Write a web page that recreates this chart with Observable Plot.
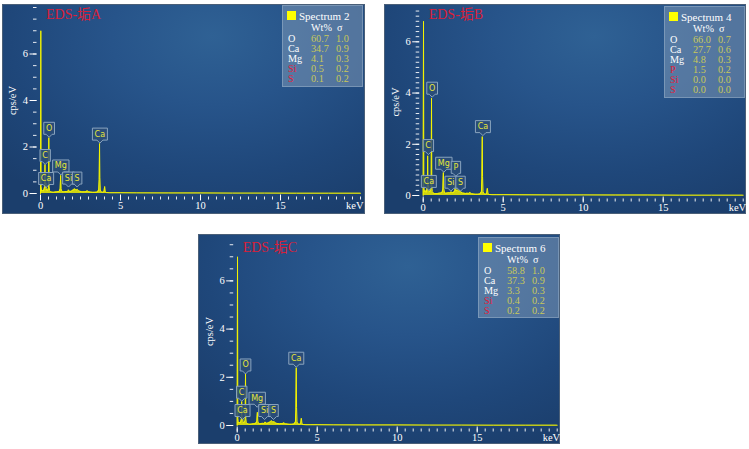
<!DOCTYPE html>
<html><head><meta charset="utf-8">
<script src="https://cdn.jsdelivr.net/npm/d3@7"></script>
<script src="https://cdn.jsdelivr.net/npm/@observablehq/plot@0.6"></script>
<style>
body{margin:0;background:#fff;}
#root{position:relative;width:749px;height:449px;overflow:hidden;background:#fff;}
.panel{position:absolute;background:radial-gradient(ellipse 80% 95% at 58% 15%, #2f6194 0%, #27548a 35%, #1f477a 70%, #1b3e6c 100%);box-shadow:0 0 0 1px #4a5f78;}
.panel svg{position:absolute;left:0;top:0;}
.title{position:absolute;font-family:"Liberation Serif","Noto Sans CJK SC",serif;font-size:14px;color:#d8203a;line-height:1;white-space:nowrap;}
.legend{position:absolute;background:rgba(150,172,195,0.42);box-shadow:0 0 0 1px rgba(190,205,220,0.55);font-family:"Liberation Serif",serif;}
.legend span{position:absolute;line-height:10px;font-size:10.2px;white-space:nowrap;color:#fff;}
.legend .sq{background:#ffff00;width:9px;height:9px;}
.legend .t{font-size:11px;}
.legend .v{color:#c8c85a;}
.legend .r{color:#e0203a;}
</style>
</head><body><div id="root"></div>
<script>
// energy grid (keV)
const keV = [0,0.02,0.04,0.07,0.12,0.18,0.23,0.26,0.28,0.30,0.32,0.34,0.36,0.40,0.46,0.50,0.52,0.54,0.57,0.62,0.70,0.80,0.90,1.00,1.10,1.18,1.23,1.26,1.29,1.34,1.42,1.50,1.60,1.68,1.72,1.75,1.78,1.85,1.93,1.98,2.01,2.04,2.10,2.15,2.20,2.25,2.31,2.36,2.45,2.55,2.65,2.75,2.85,2.92,2.96,3.02,3.12,3.25,3.40,3.55,3.64,3.67,3.69,3.71,3.74,3.80,3.90,3.97,4.01,4.05,4.12,4.30,4.60,5.0,6.0,8.0,10.0,12.0,14.0,16.0,18.0,20.0];

// spectra (cps/eV)
const cpsA = [0,7.0,0.3,0.1,0.15,0.1,0.2,0.3,1.25,0.35,0.25,0.45,0.2,0.12,0.15,0.25,2.4,0.3,0.12,0.08,0.06,0.05,0.06,0.07,0.08,0.1,0.2,0.78,0.2,0.08,0.07,0.08,0.09,0.08,0.1,0.16,0.1,0.09,0.1,0.12,0.15,0.14,0.18,0.2,0.17,0.15,0.18,0.12,0.1,0.08,0.07,0.08,0.08,0.12,0.1,0.07,0.06,0.05,0.05,0.06,0.15,0.6,2.15,0.7,0.15,0.06,0.05,0.08,0.3,0.07,0.04,0.03,0.03,0.03,0.025,0.02,0.02,0.015,0.015,0.01,0.01,0.01];
const cpsB = [0,6.8,0.4,0.15,0.2,0.12,0.25,0.35,1.55,0.4,0.3,0.4,0.22,0.14,0.18,0.3,3.8,0.35,0.15,0.1,0.08,0.07,0.08,0.09,0.1,0.12,0.25,0.9,0.25,0.1,0.09,0.1,0.11,0.1,0.12,0.15,0.12,0.11,0.14,0.2,0.52,0.2,0.2,0.22,0.18,0.16,0.2,0.13,0.1,0.09,0.08,0.09,0.08,0.12,0.1,0.07,0.06,0.05,0.05,0.06,0.15,0.65,2.3,0.75,0.15,0.06,0.05,0.08,0.28,0.07,0.04,0.03,0.03,0.03,0.025,0.02,0.02,0.015,0.015,0.01,0.01,0.01];
const cpsC = [0,7.0,0.3,0.1,0.14,0.1,0.18,0.25,1.0,0.3,0.22,0.35,0.18,0.11,0.14,0.22,2.15,0.28,0.11,0.08,0.06,0.05,0.06,0.07,0.08,0.1,0.18,0.55,0.18,0.08,0.07,0.08,0.09,0.08,0.1,0.15,0.1,0.09,0.1,0.12,0.14,0.13,0.17,0.2,0.16,0.14,0.17,0.11,0.09,0.08,0.07,0.08,0.08,0.11,0.09,0.07,0.06,0.05,0.05,0.06,0.15,0.65,2.4,0.75,0.15,0.06,0.05,0.08,0.3,0.07,0.04,0.03,0.03,0.03,0.025,0.02,0.02,0.015,0.015,0.01,0.01,0.01];

// peak labels (pointer tip at energy / cps)
const labNameA = ["C","O","Ca","Mg","Si","S","Ca"];
const labKeVA  = [0.28,0.54,0.35,1.27,1.75,2.29,3.71];
const labCpsA  = [1.25,2.42,0.26,0.8,0.28,0.28,2.17];
const labNameB = ["C","O","Ca","Mg","P","Si","S","Ca"];
const labKeVB  = [0.31,0.56,0.35,1.29,2.04,1.73,2.33,3.73];
const labCpsB  = [1.6,3.84,0.2,0.91,0.75,0.17,0.17,2.34];
const labNameC = ["C","O","Ca","Mg","Si","S","Ca"];
const labKeVC  = [0.27,0.52,0.33,1.25,1.71,2.27,3.69];
const labCpsC  = [1.01,2.14,0.25,0.76,0.25,0.25,2.42];

// quantification tables
const titles = ["EDS-垢A","EDS-垢B","EDS-垢C"];
const spectrumNames = ["Spectrum 2","Spectrum 4","Spectrum 6"];
const elemA = ["O","Ca","Mg","Si","S"];     const wtA = ["60.7","34.7","4.1","0.5","0.1"]; const sigA = ["1.0","0.9","0.3","0.2","0.2"];
const elemB = ["O","Ca","Mg","P","Si","S"]; const wtB = ["66.0","27.7","4.8","1.5","0.0","0.0"]; const sigB = ["0.7","0.6","0.3","0.2","0.0","0.0"];
const elemC = ["O","Ca","Mg","Si","S"];     const wtC = ["58.8","37.3","3.3","0.4","0.2"]; const sigC = ["1.0","0.9","0.3","0.2","0.2"];
const redElems = ["P","Si","S"];
const yTickLabels = [0,2,4,6];
const xTickLabels = [0,5,10,15];

const panels = [
  {left:3,top:5,w:361,h:208,ml:37,mr:4,mt:2,mb:20,ymax:8,yminor:0.5,titleTop:3,lgTop:1,lgH:80,
   cps:cpsA,ln:labNameA,lk:labKeVA,lc:labCpsA,el:elemA,wt:wtA,sg:sigA},
  {left:385,top:5,w:360,h:208,ml:37.7,mr:2.3,mt:3,mb:18,ymax:7.3,yminor:0.2,titleTop:3,lgTop:2,lgH:90,
   cps:cpsB,ln:labNameB,lk:labKeVB,lc:labCpsB,el:elemB,wt:wtB,sg:sigB},
  {left:199,top:235,w:360,h:208,ml:37.7,mr:2.3,mt:2,mb:18,ymax:7.8,yminor:0.5,titleTop:5.5,lgTop:3,lgH:79,
   cps:cpsC,ln:labNameC,lk:labKeVC,lc:labCpsC,el:elemC,wt:wtC,sg:sigC}
];

const SVGNS = "http://www.w3.org/2000/svg";
const root = document.getElementById("root");
panels.forEach((p, k) => {
  const div = document.createElement("div");
  div.className = "panel";
  Object.assign(div.style, {left:p.left+"px", top:p.top+"px", width:p.w+"px", height:p.h+"px"});
  root.appendChild(div);

  const data = keV.map((e, i) => ({e, c: p.cps[i]}));
  const labels = p.ln.map((n, i) => ({name: n, e: p.lk[i], c: p.lc[i]}));
  const yMinor = d3.range(0, p.ymax + 1e-9, p.yminor);
  const xMinor = d3.range(0, 20.001, 0.5);

  const svg = Plot.plot({
    width: p.w, height: p.h,
    marginLeft: p.ml, marginRight: p.mr, marginTop: p.mt, marginBottom: p.mb,
    x: {domain: [0, 20]},
    y: {domain: [0, p.ymax]},
    style: {background: "transparent", color: "white", fontFamily: "Liberation Serif, serif", fontSize: "10.5px", overflow: "visible"},
    marks: [
      Plot.axisY({ticks: yMinor, tickSize: 3.5, dx: -3.5, fill: "none", label: null, strokeOpacity: 0.9}),
      Plot.axisY({ticks: yTickLabels, tickSize: 7, tickPadding: 2, dx: -3.5, label: null}),
      Plot.axisX({ticks: xMinor, tickSize: 3, dy: 3.5, fill: "none", label: null, strokeOpacity: 0.9}),
      Plot.axisX({ticks: xTickLabels, tickSize: 6, tickPadding: 1, dy: 1.5, label: null}),
      Plot.text(["keV"], {frameAnchor: "bottom-right", textAnchor: "end", lineAnchor: "top", dx: 3, dy: 8.5, fill: "white"}),
      Plot.text(["cps/eV"], {frameAnchor: "left", rotate: -90, dx: -28, textAnchor: "middle", lineAnchor: "middle", fill: "white"}),
      Plot.areaY(data, {x: "e", y: "c", fill: "#eded00", fillOpacity: 0.85}),
      Plot.lineY(data, {x: "e", y: "c", stroke: "#f4f400", strokeWidth: 1}),
      Plot.text(labels, {x: "e", y: "c", text: "name", dy: -9, lineAnchor: "middle", textAnchor: "middle",
        fill: "#e6e63a", fontSize: 8, fontFamily: "DejaVu Sans, sans-serif"})
    ]
  });
  div.appendChild(svg);

  // callout boxes behind each peak label (last text mark), sized from the rendered text
  const textGroups = svg.querySelectorAll('g[aria-label="text"]');
  const labelGroup = textGroups[textGroups.length - 1];
  labelGroup.querySelectorAll("text").forEach(tx => {
    const bb = tx.getBBox();
    const tr = tx.getAttribute("transform");
    const cx = bb.x + bb.width / 2, cy = bb.y + bb.height / 2;
    const hw = bb.width / 2 + 2.2, hh = 6, m = 3;
    const path = document.createElementNS(SVGNS, "path");
    path.setAttribute("d",
      `M${cx},${cy + hh + m} l${-m},${-m} H${cx - hw} V${cy - hh} H${cx + hw} V${cy + hh} H${cx + m} Z`);
    path.setAttribute("fill", "#2b4e78");
    path.setAttribute("fill-opacity", "0.85");
    path.setAttribute("stroke", "#8aa4bf");
    path.setAttribute("stroke-width", "1");
    if (tr) path.setAttribute("transform", tr);
    tx.parentNode.insertBefore(path, tx);
  });

  const t = document.createElement("div");
  t.className = "title";
  t.textContent = titles[k];
  Object.assign(t.style, {left: (p.ml + 6) + "px", top: p.titleTop + "px"});
  div.appendChild(t);

  const lg = document.createElement("div");
  lg.className = "legend";
  Object.assign(lg.style, {left: "280px", top: p.lgTop + "px", width: "79px", height: p.lgH + "px"});
  const add = (txt, x, cy, cls) => {
    const s = document.createElement("span");
    if (cls) s.className = cls;
    s.textContent = txt;
    s.style.left = x + "px"; s.style.top = (cy - 5) + "px";
    lg.appendChild(s); return s;
  };
  const sq = document.createElement("span"); sq.className = "sq";
  sq.style.left = "4px"; sq.style.top = "5px"; lg.appendChild(sq);
  add(spectrumNames[k], 16, 9.5, "t");
  add("Wt%", 28, 21.5);
  add("σ", 54, 21.5);
  p.el.forEach((e, i) => {
    const cy = 32.5 + i * 10;
    add(e, 5, cy, redElems.includes(e) ? "r" : "");
    add(p.wt[i], 28, cy, "v");
    add(p.sg[i], 53, cy, "v");
  });
  div.appendChild(lg);
});
</script>
</body></html>
